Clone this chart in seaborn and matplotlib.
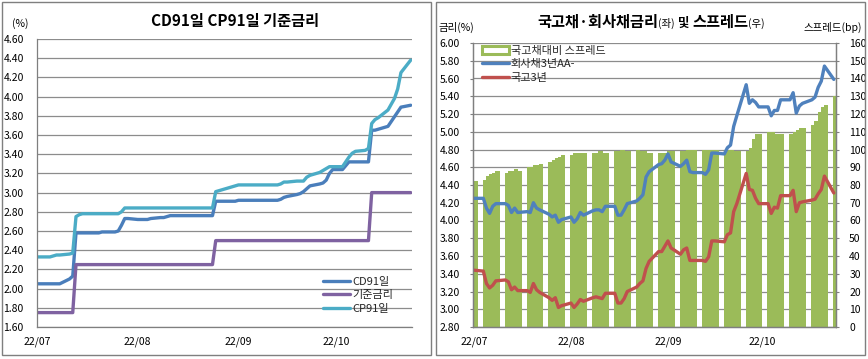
import matplotlib
matplotlib.use("Agg")
import matplotlib.pyplot as plt
import matplotlib.dates as mdates
from matplotlib.lines import Line2D
from matplotlib.patches import Rectangle, Patch
import seaborn as sns
import pandas as pd
import numpy as np

# ---------------- data ----------------
dates = pd.bdate_range("2022-07-01", "2022-10-24")   # weekdays, 82 points

cd91 = [
    2.05,
    2.05, 2.05, 2.05, 2.05, 2.05,
    2.10, 2.13, 2.58, 2.58, 2.58,
    2.58, 2.58, 2.58, 2.59, 2.59,
    2.59, 2.60, 2.66, 2.73, 2.73,
    2.72, 2.72, 2.72, 2.72, 2.73,
    2.74, 2.74, 2.75, 2.76, 2.76,
    2.76, 2.76, 2.76, 2.76, 2.76,
    2.76, 2.76, 2.76, 2.91, 2.91,
    2.91, 2.91, 2.91, 2.92, 2.92,
    2.92, 2.92, 2.92, 2.92, 2.92,
    2.92, 2.92, 2.93, 2.95, 2.96,
    2.98, 2.99, 3.01, 3.04, 3.07,
    3.09, 3.10, 3.13, 3.20, 3.24,
    3.24, 3.28, 3.32, 3.32, 3.32,
    3.32, 3.32, 3.65, 3.65, 3.66,
    3.69, 3.74, 3.79, 3.84, 3.89,
    3.91,
]

base_rate = [
    1.75,
    1.75, 1.75, 1.75, 1.75, 1.75,
    1.75, 1.75, 2.25, 2.25, 2.25,
    2.25, 2.25, 2.25, 2.25, 2.25,
    2.25, 2.25, 2.25, 2.25, 2.25,
    2.25, 2.25, 2.25, 2.25, 2.25,
    2.25, 2.25, 2.25, 2.25, 2.25,
    2.25, 2.25, 2.25, 2.25, 2.25,
    2.25, 2.25, 2.25, 2.50, 2.50,
    2.50, 2.50, 2.50, 2.50, 2.50,
    2.50, 2.50, 2.50, 2.50, 2.50,
    2.50, 2.50, 2.50, 2.50, 2.50,
    2.50, 2.50, 2.50, 2.50, 2.50,
    2.50, 2.50, 2.50, 2.50, 2.50,
    2.50, 2.50, 2.50, 2.50, 2.50,
    2.50, 2.50, 3.00, 3.00, 3.00,
    3.00, 3.00, 3.00, 3.00, 3.00,
    3.00,
]

cp91 = [
    2.33,
    2.33, 2.33, 2.34, 2.35, 2.35,
    2.36, 2.37, 2.75, 2.77, 2.78,
    2.78, 2.78, 2.78, 2.78, 2.78,
    2.78, 2.78, 2.80, 2.84, 2.84,
    2.84, 2.84, 2.84, 2.84, 2.84,
    2.84, 2.84, 2.84, 2.84, 2.84,
    2.84, 2.84, 2.84, 2.84, 2.84,
    2.84, 2.84, 2.84, 3.01, 3.02,
    3.05, 3.06, 3.07, 3.08, 3.08,
    3.08, 3.08, 3.08, 3.08, 3.08,
    3.08, 3.08, 3.09, 3.11, 3.11,
    3.12, 3.12, 3.12, 3.16, 3.18,
    3.21, 3.23, 3.25, 3.27, 3.27,
    3.27, 3.32, 3.37, 3.41, 3.43,
    3.44, 3.46, 3.72, 3.76, 3.78,
    3.86, 3.92, 3.98, 4.08, 4.25,
    4.38,
]

corp3y = [
    4.25,
    4.25, 4.14, 4.08, 4.16, 4.19,
    4.19, 4.17, 4.09, 4.14, 4.09,
    4.10, 4.09, 4.20, 4.14, 4.12,
    4.07, 4.04, 4.06, 3.98, 4.01,
    4.04, 3.98, 4.02, 4.09, 4.06,
    4.11, 4.12, 4.12, 4.10, 4.16,
    4.16, 4.06, 4.06, 4.12, 4.19,
    4.22, 4.25, 4.29, 4.49, 4.55,
    4.63, 4.64, 4.68, 4.75, 4.66,
    4.61, 4.64, 4.68, 4.55, 4.54,
    4.54, 4.52, 4.57, 4.76, 4.76,
    4.75, 4.82, 4.85, 5.06, 5.18,
    5.53, 5.32, 5.36, 5.33, 5.28,
    5.28, 5.18, 5.24, 5.24, 5.36,
    5.36, 5.44, 5.21, 5.29, 5.32,
    5.36, 5.39, 5.50, 5.57, 5.74,
    5.59,
]

ktb3y = [
    3.44,
    3.43, 3.29, 3.24, 3.27, 3.32,
    3.33, 3.31, 3.22, 3.25, 3.21,
    3.21, 3.19, 3.29, 3.22, 3.19,
    3.13, 3.10, 3.13, 3.02, 3.04,
    3.07, 3.02, 3.06, 3.11, 3.09,
    3.13, 3.14, 3.13, 3.12, 3.18,
    3.18, 3.07, 3.07, 3.12, 3.20,
    3.25, 3.29, 3.32, 3.46, 3.54,
    3.65, 3.65, 3.71, 3.77, 3.69,
    3.62, 3.67, 3.69, 3.55, 3.55,
    3.55, 3.54, 3.59, 3.77, 3.77,
    3.76, 3.84, 3.86, 4.10, 4.19,
    4.53, 4.35, 4.34, 4.25, 4.19,
    4.19, 4.08, 4.15, 4.14, 4.28,
    4.28, 4.34, 4.10, 4.20, 4.21,
    4.23, 4.24, 4.30, 4.35, 4.50,
    4.31,
]

spread_bp = [
    82,
    83, 85, 86, 87, 88,
    87, 88, 88, 89, 88,
    90, 90, 91, 91, 92,
    93, 94, 95, 96, 97,
    97, 98, 98, 98, 98,
    98, 98, 99, 98, 98,
    99, 99, 100, 99, 99,
    100, 99, 99, 98, 98,
    98, 98, 98, 99, 99,
    99, 99, 100, 100, 100,
    100, 100, 100, 100, 100,
    100, 100, 100, 99, 99,
    99, 101, 106, 109, 109,
    110, 110, 109, 109, 109,
    109, 110, 111, 112, 112,
    114, 116, 121, 124, 125,
    130,
]

month_labels = ["22/07", "22/08", "22/09", "22/10"]
left_title = "CD91일 CP91일 기준금리"
left_names = ["CD91일", "기준금리", "CP91일"]
right_names = ["국고채대비 스프레드", "회사채3년AA-", "국고3년"]

# ---------------- style ----------------
sns.set_theme(style="white")
plt.rcParams["font.family"] = ["Noto Sans CJK KR", "DejaVu Sans"]
plt.rcParams["axes.unicode_minus"] = False

C_CD = "#4A7EBB"
C_BASE = "#7F62A1"
C_CP = "#4BACC6"
C_CORP = "#4F81BD"
C_KTB = "#C0504D"
C_BAR = "#9BBB59"
C_GRID = "#8C8C8C"
C_TXT = "#000000"

W, H = 868, 359
fig = plt.figure(figsize=(W / 100, H / 100), dpi=100)
fig.patch.set_facecolor("white")


def fx(px):
    return px / W


def fy(py):
    return 1 - py / H


def axes_px(x0, x1, ytop, ybot):
    return [fx(x0), fy(ybot), fx(x1) - fx(x0), (ybot - ytop) / H]


# panel frames
fig.patches.append(Rectangle((fx(2), fy(355)), fx(431) - fx(2), (355 - 2) / H,
                             transform=fig.transFigure, fill=False,
                             edgecolor="#7F7F7F", linewidth=1.0))
fig.patches.append(Rectangle((fx(436), fy(355)), fx(865) - fx(436), (355 - 2) / H,
                             transform=fig.transFigure, fill=False,
                             edgecolor="#7F7F7F", linewidth=1.0))

xnum = mdates.date2num(dates.to_pydatetime())
d0 = mdates.date2num(pd.Timestamp("2022-07-01").to_pydatetime())
month_ticks = mdates.date2num(pd.to_datetime(["2022-07-01", "2022-08-01",
                                              "2022-09-01", "2022-10-01"]).to_pydatetime())

TICK_FS = 7.5
LEG_FS = 8

# ---------------- left chart ----------------
axL = fig.add_axes(axes_px(37, 412, 39, 327))
df_left = pd.DataFrame({"x": xnum, "cd": cd91, "base": base_rate, "cp": cp91})
sns.lineplot(data=df_left, x="x", y="cd", ax=axL, color=C_CD, linewidth=2.4)
sns.lineplot(data=df_left, x="x", y="base", ax=axL, color=C_BASE, linewidth=2.4)
sns.lineplot(data=df_left, x="x", y="cp", ax=axL, color=C_CP, linewidth=2.4)
axL.set_xlim(d0, d0 + 115.4)
axL.set_ylim(1.6, 4.6)
axL.set_yticks(np.round(np.arange(1.6, 4.601, 0.2), 2))
axL.set_yticklabels([f"{v:.2f}" for v in np.arange(1.6, 4.601, 0.2)])
axL.set_xticks(month_ticks)
axL.set_xticklabels(month_labels)
axL.set_xlabel("")
axL.set_ylabel("")
axL.grid(axis="y", color=C_GRID, linewidth=0.9)
axL.grid(axis="x", visible=False)
axL.set_axisbelow(True)
for s in ["top", "right"]:
    axL.spines[s].set_visible(False)
for s in ["left", "bottom"]:
    axL.spines[s].set_color("#7F7F7F")
    axL.spines[s].set_linewidth(0.9)
axL.tick_params(axis="both", labelsize=TICK_FS, colors=C_TXT, direction="out",
                length=2.5, width=0.8, color="#7F7F7F")
axL.tick_params(axis="y", pad=7)
axL.tick_params(axis="x", pad=4.5)

fig.text(fx(235), fy(26), left_title, ha="center", va="baseline",
         fontsize=11, fontweight="bold", color=C_TXT)
fig.text(fx(12), fy(27), "(%)", ha="left", va="baseline", fontsize=7.5, color=C_TXT)

hL = [Line2D([0], [0], color=C_CD, lw=2.4),
      Line2D([0], [0], color=C_BASE, lw=2.4),
      Line2D([0], [0], color=C_CP, lw=2.4)]
legL = fig.legend(hL, left_names, loc="upper left",
                  bbox_to_anchor=(fx(323), fy(277)), bbox_transform=fig.transFigure,
                  frameon=False, fontsize=LEG_FS, handlelength=2.4, handletextpad=0.2,
                  labelspacing=0.3, borderpad=0, borderaxespad=0)

# ---------------- right chart ----------------
axR = fig.add_axes(axes_px(473, 836, 43, 327))
axR2 = axR.twinx()
df_right = pd.DataFrame({"x": xnum, "xb": xnum + 0.5, "corp": corp3y,
                         "ktb": ktb3y, "spread": spread_bp})
sns.barplot(data=df_right, x="xb", y="spread", ax=axR2, native_scale=True,
            width=1.4, color=C_BAR, saturation=1, errorbar=None, linewidth=0)
sns.lineplot(data=df_right, x="x", y="corp", ax=axR, color=C_CORP, linewidth=2.4)
sns.lineplot(data=df_right, x="x", y="ktb", ax=axR, color=C_KTB, linewidth=2.4)

axR.set_zorder(axR2.get_zorder() + 1)
axR.patch.set_visible(False)

axR.set_xlim(d0 - 0.3, d0 + 115.7)
axR.set_ylim(2.8, 6.0)
axR2.set_ylim(0, 160)
axR.set_yticks(np.round(np.arange(2.8, 6.001, 0.2), 2))
axR.set_yticklabels([f"{v:.2f}" for v in np.arange(2.8, 6.001, 0.2)])
axR2.set_yticks(np.arange(0, 161, 10))
axR2.set_yticklabels([f"{v:d}" for v in range(0, 161, 10)])
axR.set_xticks(month_ticks)
axR.set_xticklabels(month_labels)
for a in (axR, axR2):
    a.set_xlabel("")
    a.set_ylabel("")
axR2.grid(axis="y", color=C_GRID, linewidth=0.9)
axR2.grid(axis="x", visible=False)
axR2.set_axisbelow(True)
axR.grid(False)
for a in (axR, axR2):
    a.spines["top"].set_visible(False)
    for s in ["left", "bottom", "right"]:
        a.spines[s].set_color("#7F7F7F")
        a.spines[s].set_linewidth(0.9)
axR.tick_params(axis="both", labelsize=TICK_FS, colors=C_TXT, direction="out",
                length=2.5, width=0.8, color="#7F7F7F")
axR.tick_params(axis="y", pad=7)
axR.tick_params(axis="x", pad=4.5)
axR2.tick_params(axis="y", labelsize=TICK_FS, colors=C_TXT, direction="out",
                 length=2.5, width=0.8, color="#7F7F7F", pad=7)
axR2.tick_params(axis="x", bottom=False, labelbottom=False)

fig.text(fx(439), fy(31), "금리(%)", ha="left", va="baseline", fontsize=7.5, color=C_TXT)
fig.text(fx(862), fy(31), "스프레드(bp)", ha="right", va="baseline", fontsize=7.5, color=C_TXT)

# rich title for the right chart
pieces = [("국고채·회사채금리", 11, "bold"), ("(좌)", 7.5, "normal"),
          (" 및 ", 9, "bold"), ("스프레드", 11, "bold"), ("(우)", 7.5, "normal")]
fig.canvas.draw()
renderer = fig.canvas.get_renderer()
objs = []
widths = []
for txt, fs, fw in pieces:
    t = fig.text(0, fy(27), txt, ha="left", va="baseline", fontsize=fs,
                 fontweight=fw, color=C_TXT)
    widths.append(t.get_window_extent(renderer).width)
    objs.append(t)
total = sum(widths)
xpos = 651 - total / 2
for t, w in zip(objs, widths):
    t.set_x(fx(xpos))
    xpos += w

green_key = Patch(facecolor="white", edgecolor=C_BAR, linewidth=2.2)
hR = [green_key, Line2D([0], [0], color=C_CORP, lw=2.4), Line2D([0], [0], color=C_KTB, lw=2.4)]
legR = fig.legend(hR, right_names, loc="upper left",
                  bbox_to_anchor=(fx(482), fy(46)), bbox_transform=fig.transFigure,
                  frameon=False, fontsize=LEG_FS, handlelength=2.4, handletextpad=0.2,
                  labelspacing=0.3, borderpad=0, borderaxespad=0)
legR.set_zorder(10)

fig.savefig("out.png", dpi=100, facecolor="white")
